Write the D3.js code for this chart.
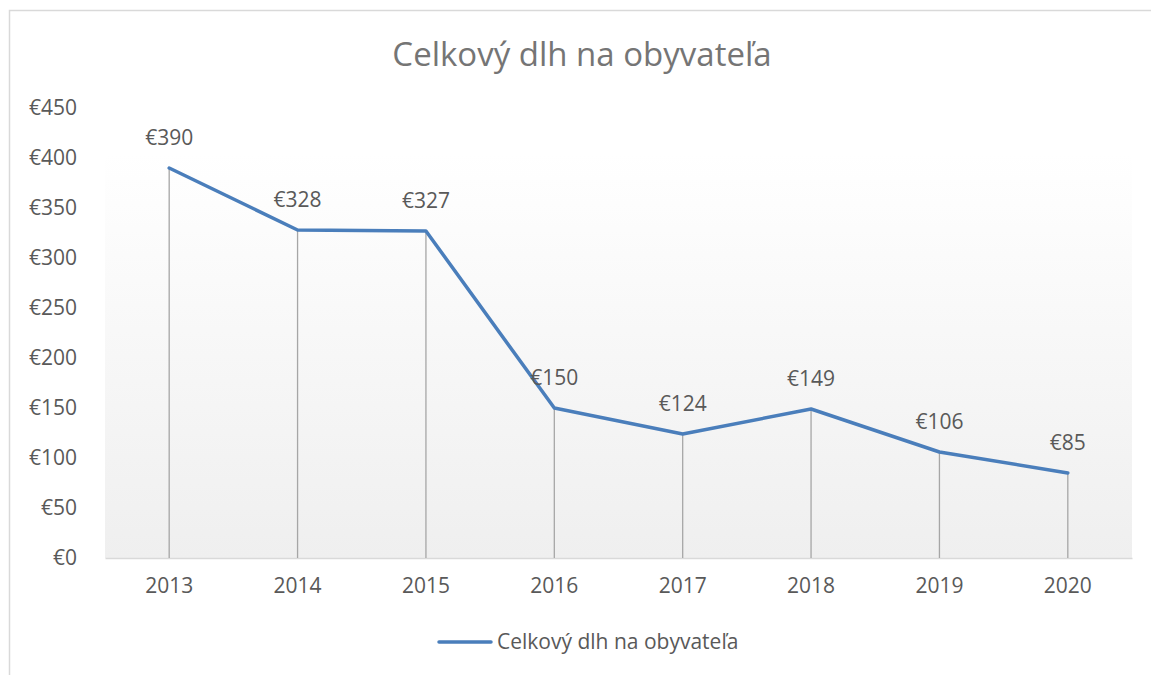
<!DOCTYPE html>
<html lang="sk">
<head>
  <meta charset="UTF-8">
  <title>Celkový dlh na obyvateľa</title>
  <script src="https://cdn.jsdelivr.net/npm/d3@7"></script>
  <style>
    body {
      margin: 0;
      background: #fff;
      font-family: "Open Sans", sans-serif;
    }
    svg {
      display: block;
    }
    .tick text {
      fill: #595959;
    }
  </style>
</head>
<body>
  <svg id="chart" width="1151" height="675"></svg>
  <script>
    // data
    const years = ['2013', '2014', '2015', '2016', '2017', '2018', '2019', '2020'];
    const debt = [390, 328, 327, 150, 124, 149, 106, 85];
    const yTicks = [0, 50, 100, 150, 200, 250, 300, 350, 400, 450];
    const seriesName = 'Celkový dlh na obyvateľa';

    const width = 1151;
    const height = 675;
    const margin = { top: 108, right: 19, bottom: 117, left: 105 };

    const svg = d3.select('#chart');

    // chart border
    svg.append('rect')
      .attr('x', 9.5)
      .attr('y', 10.5)
      .attr('width', 1300)
      .attr('height', 1000)
      .attr('fill', '#fff')
      .attr('stroke', '#d9d9d9')
      .attr('stroke-width', 1.5);

    const x = d3.scaleBand()
      .domain(years)
      .range([margin.left, width - margin.right]);

    const y = d3.scaleLinear()
      .domain([0, 450])
      .range([height - margin.bottom, margin.top]);

    const euro = d => '€' + d;

    // plot area gradient
    const defs = svg.append('defs');
    const grad = defs.append('linearGradient')
      .attr('id', 'plotbg')
      .attr('x1', 0).attr('y1', 0)
      .attr('x2', 0).attr('y2', 1);
    grad.append('stop').attr('offset', '0%').attr('stop-color', '#ffffff');
    grad.append('stop').attr('offset', '10%').attr('stop-color', '#ffffff');
    grad.append('stop').attr('offset', '100%').attr('stop-color', '#efefef');

    svg.append('rect')
      .attr('x', x.range()[0])
      .attr('y', y(450))
      .attr('width', x.range()[1] - x.range()[0])
      .attr('height', y(0) - y(450))
      .attr('fill', 'url(#plotbg)');

    // y axis (labels only)
    const yAxis = svg.append('g')
      .attr('transform', `translate(${margin.left},0)`)
      .call(d3.axisLeft(y).tickValues(yTicks).tickFormat(euro).tickSize(0).tickPadding(28))
      .call(g => g.select('.domain').remove());
    yAxis.selectAll('text')
      .attr('font-size', 21)
      .attr('font-family', '"Open Sans", sans-serif');

    // x axis
    const xAxis = svg.append('g')
      .attr('transform', `translate(0,${y(0)})`)
      .call(d3.axisBottom(x).tickSize(0).tickPadding(20));
    xAxis.select('.domain')
      .attr('stroke', '#d9d9d9')
      .attr('stroke-width', 1.5);
    xAxis.selectAll('text')
      .attr('font-size', 21)
      .attr('font-family', '"Open Sans", sans-serif');

    const cx = d => x(d) + x.bandwidth() / 2;

    // drop lines
    svg.append('g')
      .selectAll('line')
      .data(years)
      .join('line')
      .attr('x1', d => cx(d))
      .attr('x2', d => cx(d))
      .attr('y1', (d, i) => y(debt[i]))
      .attr('y2', y(0))
      .attr('stroke', '#a6a6a6')
      .attr('stroke-width', 1.3);

    // series line
    const line = d3.line()
      .x((d, i) => cx(years[i]))
      .y(d => y(d));

    svg.append('path')
      .datum(debt)
      .attr('d', line)
      .attr('fill', 'none')
      .attr('stroke', '#4a7ebb')
      .attr('stroke-width', 3.5)
      .attr('stroke-linejoin', 'round')
      .attr('stroke-linecap', 'round');

    // data labels
    svg.append('g')
      .selectAll('text')
      .data(debt)
      .join('text')
      .attr('x', (d, i) => cx(years[i]))
      .attr('y', d => y(d) - 23)
      .attr('text-anchor', 'middle')
      .attr('font-size', 21)
      .attr('fill', '#595959')
      .text(euro);

    // title
    svg.append('text')
      .attr('x', 582)
      .attr('y', 66)
      .attr('text-anchor', 'middle')
      .attr('font-size', 33)
      .attr('fill', '#757575')
      .text(seriesName);

    // legend
    const legend = svg.append('g');
    legend.append('line')
      .attr('x1', 439).attr('x2', 491)
      .attr('y1', 642).attr('y2', 642)
      .attr('stroke', '#4a7ebb')
      .attr('stroke-width', 3.5)
      .attr('stroke-linecap', 'round');
    legend.append('text')
      .attr('x', 497)
      .attr('y', 649)
      .attr('font-size', 21)
      .attr('fill', '#595959')
      .text(seriesName);
  </script>
</body>
</html>
